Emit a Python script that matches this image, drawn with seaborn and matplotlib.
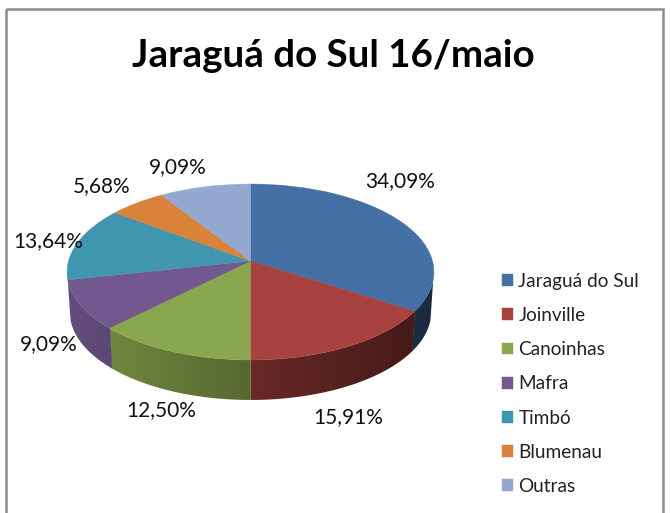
import matplotlib
matplotlib.use("Agg")
import matplotlib.pyplot as plt
from matplotlib.colors import to_rgb
from matplotlib.patches import PathPatch, Polygon, Rectangle
from matplotlib.path import Path
import numpy as np
import seaborn as sns

cidades = ["Jaraguá do Sul", "Joinville", "Canoinhas", "Mafra", "Timbó", "Blumenau", "Outras"]
percentuais = [34.09, 15.91, 12.50, 9.09, 13.64, 5.68, 9.09]
cores = ["#4570a5", "#a8423f", "#8aa64e", "#71588f", "#4096ae", "#d9823b", "#93a9cf"]
titulo = "Jaraguá do Sul 16/maio"

# label centres in pixels, same order as the slices
pos_rotulos = [(400, 181), (348, 417), (161, 410), (49, 344), (48, 241), (102, 186), (178, 167)]

# pie tilt, fitted to the picture
CX, CY = 250.5, 261
RX, RY, K = 182, 86.6, 0.125
ALTURA = 40


def projeta(xy):
    x, y = np.asarray(xy).T
    d = 1 + K * y
    return np.column_stack([CX + RX * x / d, CY - RY * y / d])


def gradiente(cor):
    # side wall gets darker from left to right
    f = 0.87 - np.linspace(0, 1, 368) * 0.49
    return np.outer(f, to_rgb(cor))[np.newaxis, :, :]


sns.set_theme(style="white")
plt.rcParams["font.family"] = ["Lato", "DejaVu Sans"]

fig = plt.figure(figsize=(6.7, 5.13), dpi=100)
ax = fig.add_axes([0, 0, 1, 1])
fatias, _ = ax.pie(percentuais, colors=sns.color_palette(cores), startangle=90, counterclock=False)
ax.set_aspect("auto")
ax.axis("off")

# side wall, one clipped gradient per slice
for w, cor in zip(fatias, cores):
    angulos = np.radians(np.arange(w.theta1, w.theta2 + 0.5, 0.5))
    angulos = angulos[np.sin(angulos) < -0.21]
    if len(angulos) < 2:
        continue
    topo = projeta(np.column_stack([np.cos(angulos), np.sin(angulos)]))
    baixo = np.column_stack([CX + (topo[:, 0] - CX) * 0.985, topo[:, 1] + ALTURA])
    contorno = Polygon(np.vstack([topo, baixo[::-1]]), transform=ax.transData)
    im = ax.imshow(gradiente(cor), extent=(67, 435, 420, 250), aspect="auto", zorder=2)
    im.set_clip_path(contorno)
ax.set_xlim(0, 670)
ax.set_ylim(513, 0)

# top face
tampas = []
for w, cor in zip(fatias, cores):
    p = w.get_path()
    tampa = PathPatch(Path(projeta(p.vertices), p.codes), facecolor=cor, edgecolor=cor, lw=0.3, zorder=3)
    ax.add_patch(tampa)
    tampas.append(tampa)
    w.remove()

for v, (x, y) in zip(percentuais, pos_rotulos):
    ax.text(x, y, f"{v:.2f}%".replace(".", ","), ha="center", va="center",
            fontsize=15, color="#111111", zorder=5)

ax.text(333, 56, titulo, ha="center", va="center", fontsize=27.7, fontweight="bold", color="black")

ax.legend(tampas, cidades, loc="upper left", bbox_to_anchor=(502 / 670, 1 - 273 / 513), frameon=False,
          fontsize=13.7, handlelength=0.58, handleheight=0.58, handletextpad=0.28,
          labelspacing=0.90, borderpad=0, borderaxespad=0, labelcolor="#222222")

# chart border
ax.add_patch(Rectangle((6, 8.5), 657, 520, fill=False, edgecolor="#8c8c8c", lw=1.8, zorder=6))

fig.savefig("out.png", dpi=100, facecolor="white")
